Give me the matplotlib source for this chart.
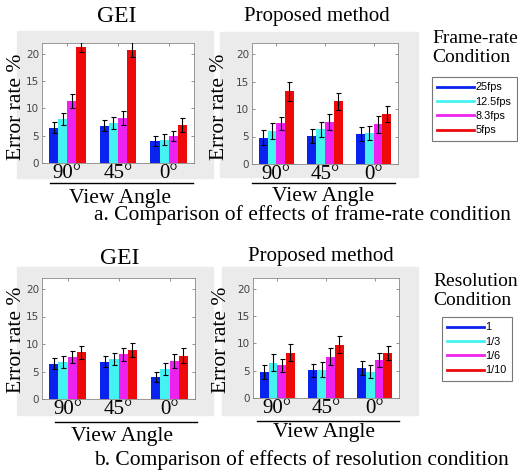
import matplotlib
matplotlib.use("Agg")
import matplotlib.pyplot as plt
from matplotlib.patches import Rectangle
from matplotlib.lines import Line2D
import numpy as np

W, H = 518, 470

angles = ["90°", "45°", "0°"]
colors = ["#0A22EE", "#44F2F2", "#EE22EE", "#EE0A0A"]

fr_labels = ["25fps", "12.5fps", "8.3fps", "5fps"]
res_labels = ["1", "1/3", "1/6", "1/10"]

# values[condition][angle]
gei_fr = [[6.5, 6.8, 4.1], [8.0, 7.3, 4.3], [11.4, 8.3, 5.0], [21.3, 20.8, 7.0]]
gei_fr_err = [[1.0, 1.0, 0.9], [1.1, 1.1, 1.0], [1.3, 1.3, 0.9], [0.9, 1.4, 1.3]]
prop_fr = [[4.8, 5.1, 5.5], [6.0, 6.3, 5.6], [7.4, 7.6, 7.2], [13.2, 11.4, 9.1]]
prop_fr_err = [[1.4, 1.2, 1.3], [1.4, 1.3, 1.3], [1.2, 1.5, 1.5], [1.7, 1.5, 1.5]]

gei_res = [[6.4, 6.8, 4.0], [6.7, 7.2, 5.5], [7.7, 8.1, 6.9], [8.5, 8.9, 7.9]]
gei_res_err = [[1.0, 1.0, 0.9], [1.1, 1.1, 1.1], [1.1, 1.2, 1.2], [1.2, 1.3, 1.3]]
prop_res = [[4.8, 5.1, 5.5], [6.5, 5.2, 4.8], [6.0, 7.6, 7.0], [8.3, 9.8, 8.3]]
prop_res_err = [[1.3, 1.2, 1.3], [1.5, 1.4, 1.2], [1.2, 1.5, 1.3], [1.6, 1.6, 1.3]]

SERIF = ["Liberation Serif", "DejaVu Serif"]
SANS = ["Liberation Sans", "DejaVu Sans"]

fig = plt.figure(figsize=(W / 100, H / 100), dpi=100)


def fbox(x0, y0, x1, y1):
    return [x0 / W, 1 - y1 / H, (x1 - x0) / W, (y1 - y0) / H]


def ftxt(x, y, s, size, **kw):
    fig.text(x / W, 1 - y / H, s, fontsize=size, family=SERIF,
             ha=kw.pop("ha", "center"), va=kw.pop("va", "center"), **kw)


def panel(gray, axbox, title, tpos, ylpos, uline, vapos, vals, errs, tsize=15):
    fig.patches.append(Rectangle((gray[0] / W, 1 - gray[3] / H),
                                 (gray[2] - gray[0]) / W, (gray[3] - gray[1]) / H,
                                 transform=fig.transFigure, color="#EBEBEB", zorder=-5))
    ax = fig.add_axes(fbox(*axbox))
    ax.set_zorder(2)
    x = np.arange(1, 4)
    bw = 0.18
    for i in range(4):
        off = (i - 1.5) * bw
        ax.bar(x + off, vals[i], width=bw, color=colors[i], edgecolor="none", zorder=2)
        ax.errorbar(x + off, vals[i], yerr=errs[i], fmt="none", ecolor="black",
                    elinewidth=0.8, capsize=1.8, capthick=0.8, zorder=3)
    ax.set_xlim(0.5, 3.5)
    ax.set_ylim(0, 22)
    ax.set_yticks([0, 5, 10, 15, 20])
    ax.set_xticks(x)
    ax.set_xticklabels(angles, fontsize=15, family=SERIF)
    ax.tick_params(axis="y", labelsize=7.5, colors="#666666", labelcolor="#444444",
                   direction="in", length=2, width=0.5, right=True, pad=2)
    ax.tick_params(axis="x", direction="in", length=2, width=0.5, top=True,
                   colors="#666666", labelcolor="black", pad=0.5)
    for s in ax.spines.values():
        s.set_color("#888888")
        s.set_linewidth(0.6)
    ftxt(tpos[0], tpos[1], title, tsize)
    ftxt(ylpos[0], ylpos[1], "Error rate %", 15.5, rotation=90)
    fig.add_artist(Line2D([uline[0] / W, uline[1] / W], [1 - uline[2] / H] * 2,
                          color="black", lw=1.0))
    ftxt(vapos[0], vapos[1], "View Angle", 15.5)
    return ax


panel((17, 31, 213, 178), (42, 43, 194, 163), "GEI", (117, 17), (17, 107),
      (50, 193, 183), (120, 198), gei_fr, gei_fr_err, tsize=17)
panel((220, 32, 418, 177), (252, 43, 398, 164), "Proposed method", (317, 17), (220, 107),
      (252, 395, 183), (323, 197), prop_fr, prop_fr_err)
panel((17, 267, 213, 415), (42, 278, 195, 399), "GEI", (120, 259), (17, 340),
      (55, 197, 422), (122, 437), gei_res, gei_res_err, tsize=17)
panel((222, 267, 418, 415), (253, 278, 399, 398), "Proposed method", (321, 257), (222, 340),
      (257, 399, 421), (324, 433), prop_res, prop_res_err)

ftxt(302, 215, "a. Comparison of effects of frame-rate condition", 15.5)
ftxt(301, 460, "b. Comparison of effects of resolution condition", 15.5)


def legend(title_xy, box_xy, labels):
    ftxt(title_xy[0], title_xy[1], title_xy[2], 14, ha="left", va="top", linespacing=1.15)
    handles = [Line2D([], [], color=c, lw=2) for c in colors]
    leg = fig.legend(handles, labels, loc="upper left",
                     bbox_to_anchor=(box_xy[0] / W, 1 - box_xy[1] / H),
                     bbox_transform=fig.transFigure, borderaxespad=0,
                     prop={"family": SANS, "size": 7.8},
                     handlelength=3.4, handletextpad=0.1, labelspacing=0.4,
                     borderpad=0.5, fancybox=False, frameon=True)
    leg.get_frame().set_edgecolor("#555555")
    leg.get_frame().set_linewidth(0.8)


legend((432, 30, "Frame-rate\nCondition"), (432, 77), fr_labels)
legend((433, 273, "Resolution\nCondition"), (442, 317), res_labels)

fig.savefig("out.png", dpi=100)
